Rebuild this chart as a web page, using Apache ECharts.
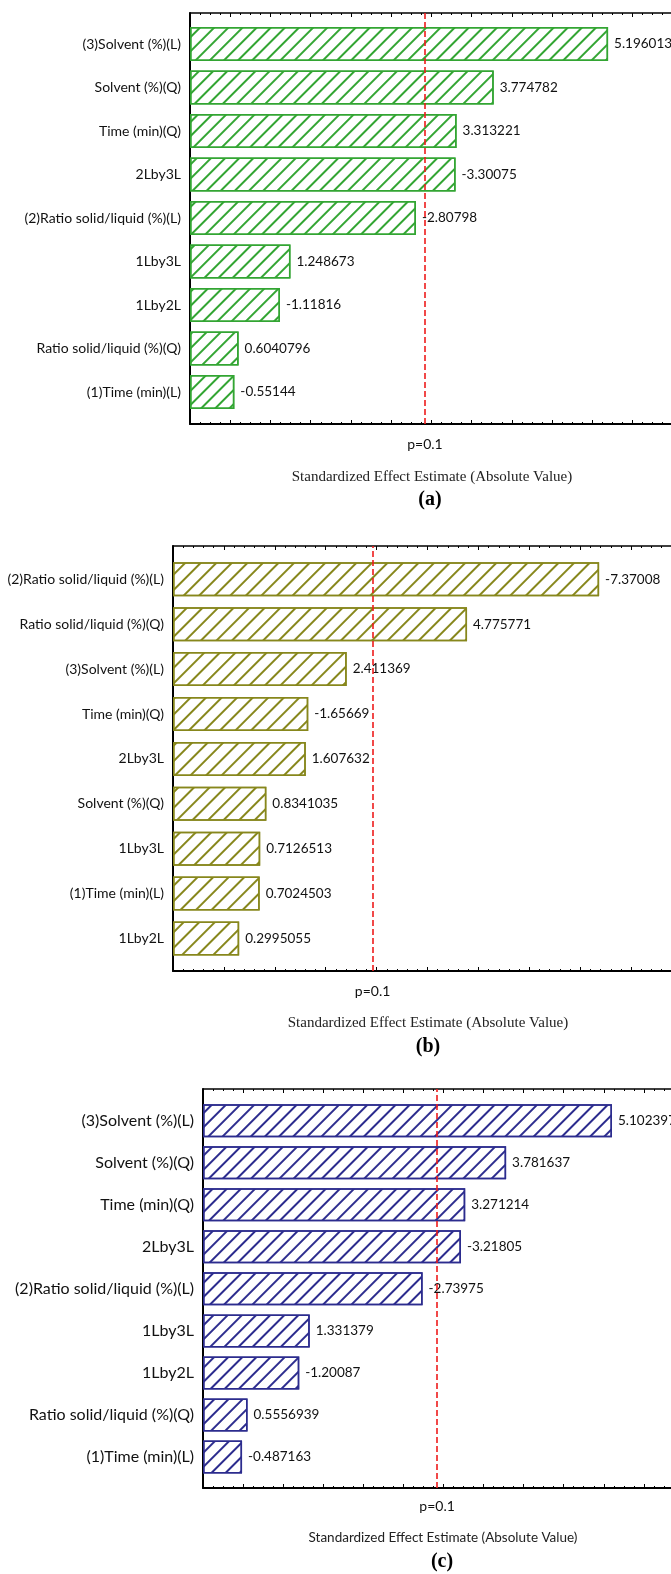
<!DOCTYPE html>
<html>
<head>
<meta charset="utf-8">
<script src="https://cdn.jsdelivr.net/npm/echarts@6/dist/echarts.min.js"></script>
<style>
    html, body { margin: 0; padding: 0; overflow: hidden; background: #fff; }
    #main { width: 760px; height: 1574px; }
</style>
</head>
<body>
<div id="main"></div>
<script>
    // effects (signed) per panel, bars show absolute value
    var catsA = ['(3)Solvent (%)(L)', 'Solvent (%)(Q)', 'Time (min)(Q)', '2Lby3L', '(2)Ratio solid/liquid (%)(L)',
        '1Lby3L', '1Lby2L', 'Ratio solid/liquid (%)(Q)', '(1)Time (min)(L)'];
    var effA = [5.196013, 3.774782, 3.313221, -3.30075, -2.80798, 1.248673, -1.11816, 0.6040796, -0.55144];

    var catsB = ['(2)Ratio solid/liquid (%)(L)', 'Ratio solid/liquid (%)(Q)', '(3)Solvent (%)(L)', 'Time (min)(Q)',
        '2Lby3L', 'Solvent (%)(Q)', '1Lby3L', '(1)Time (min)(L)', '1Lby2L'];
    var effB = [-7.37008, 4.775771, 2.411369, -1.65669, 1.607632, 0.8341035, 0.7126513, 0.7024503, 0.2995055];

    var catsC = ['(3)Solvent (%)(L)', 'Solvent (%)(Q)', 'Time (min)(Q)', '2Lby3L', '(2)Ratio solid/liquid (%)(L)',
        '1Lby3L', '1Lby2L', 'Ratio solid/liquid (%)(Q)', '(1)Time (min)(L)'];
    var effC = [5.102397, 3.781637, 3.271214, -3.21805, -2.73975, 1.331379, -1.20087, 0.5556939, -0.487163];

    var pCrit = 2.92;   // p=0.1 reference line
    var pLabel = 'p=0.1';
    var axisTitle = 'Standardized Effect Estimate (Absolute Value)';

    var panels = [
        { cats: catsA, eff: effA, tag: '(a)', color: '#33a533', hatch: 7.5,
          min: 0, max: 6.5, interval: 0.5, minorSplit: 4,
          left: 190, top: 13, width: 523, height: 411, barTop: 22.3, barHeight: 391.5, barW: 34,
          catFont: 14, pDist: 13,
          titleX: 432, titleY: 477, titleFont: 'Liberation Serif', titleSize: 15, tagX: 430, tagY: 500 },
        { cats: catsB, eff: effB, tag: '(b)', color: '#87871c', hatch: 9,
          min: -1, max: 10, interval: 1, minorSplit: 5,
          left: 173, top: 546, width: 560, height: 425, barTop: 556.9, barHeight: 404, barW: 34,
          catFont: 14, pDist: 13,
          titleX: 428, titleY: 1023, titleFont: 'Liberation Serif', titleSize: 15, tagX: 428, tagY: 1047 },
        { cats: catsC, eff: effC, tag: '(c)', color: '#2c2c8e', hatch: 7.5,
          min: 0, max: 6.5, interval: 0.5, minorSplit: 4,
          left: 203, top: 1089, width: 521, height: 399, barTop: 1099.7, barHeight: 378.3, barW: 33,
          catFont: 16, pDist: 11,
          titleX: 443, titleY: 1538, titleFont: 'Lato', titleSize: 13.5, tagX: 442, tagY: 1562 }
    ];

    var grid = [], xAxis = [], yAxis = [], series = [], graphic = [];

    panels.forEach(function (p, i) {
        var g0 = 2 * i, g1 = 2 * i + 1;
        grid.push({ left: p.left, top: p.top, width: p.width, height: p.height });
        grid.push({ left: p.left, top: p.barTop, width: p.width, height: p.barHeight });

        var tickAxis = function (pos, lw) {
            return {
                type: 'value', gridIndex: g0, position: pos, min: p.min, max: p.max, interval: p.interval,
                axisLine: { show: true, onZero: false, lineStyle: { color: '#000', width: lw } },
                axisTick: { show: true, inside: true, length: 4, lineStyle: { color: '#000' } },
                minorTick: { show: true, splitNumber: p.minorSplit, length: 2, lineStyle: { color: '#000' } },
                axisLabel: { show: false },
                splitLine: { show: false }
            };
        };
        xAxis.push(tickAxis('bottom', 2));
        xAxis.push(tickAxis('top', 1.5));
        xAxis.push({ type: 'value', gridIndex: g1, min: 0, max: p.max - p.min, show: false, splitLine: { show: false } });

        yAxis.push({
            type: 'value', gridIndex: g0, min: 0, max: 1, position: 'left',
            axisLine: { show: true, onZero: false, lineStyle: { color: '#000', width: 2 } },
            axisTick: { show: false }, axisLabel: { show: false }, splitLine: { show: false }
        });
        yAxis.push({
            type: 'category', gridIndex: g1, inverse: true, data: p.cats,
            axisLine: { show: false, onZero: false },
            axisTick: { show: true, inside: true, alignWithLabel: true, length: 3, lineStyle: { color: '#000' } },
            axisLabel: { margin: 9, color: '#111', fontFamily: 'Lato', fontSize: p.catFont }
        });

        series.push({
            type: 'bar', xAxisIndex: 3 * i + 2, yAxisIndex: g1, barWidth: p.barW,
            data: p.eff.map(function (v) { return Math.abs(v) - p.min; }),
            itemStyle: {
                color: '#fff', borderColor: p.color, borderWidth: 1.5,
                decal: {
                    symbol: 'rect', symbolSize: 1, color: p.color,
                    dashArrayX: [1, 0], dashArrayY: [1.2, p.hatch], rotation: -Math.PI / 4
                }
            },
            label: {
                show: true, position: 'right', distance: 6, color: '#111',
                fontFamily: 'Lato', fontSize: 13.5,
                formatter: function (d) { return String(p.eff[d.dataIndex]); }
            },
            silent: true
        });
        series.push({
            type: 'line', xAxisIndex: 3 * i, yAxisIndex: g0, data: [], z: 5,
            markLine: {
                silent: true, symbol: 'none',
                lineStyle: { color: '#ee1c1c', type: [6, 3], width: 1.6 },
                label: { show: true, position: 'start', distance: p.pDist, formatter: pLabel,
                    color: '#111', fontFamily: 'Lato', fontSize: 14 },
                data: [{ xAxis: pCrit }]
            }
        });

        graphic.push({
            type: 'text', x: p.titleX, y: p.titleY, silent: true,
            style: { text: axisTitle, align: 'center', verticalAlign: 'middle',
                fill: '#222', font: p.titleSize + 'px "' + p.titleFont + '"' }
        });
        graphic.push({
            type: 'text', x: p.tagX, y: p.tagY, silent: true,
            style: { text: p.tag, align: 'center', verticalAlign: 'middle',
                fill: '#000', font: 'bold 20px "Liberation Serif"' }
        });
    });

    var myChart = echarts.init(document.getElementById('main'));
    myChart.setOption({
        animation: false,
        grid: grid,
        xAxis: xAxis,
        yAxis: yAxis,
        series: series,
        graphic: graphic
    });
</script>
</body>
</html>
